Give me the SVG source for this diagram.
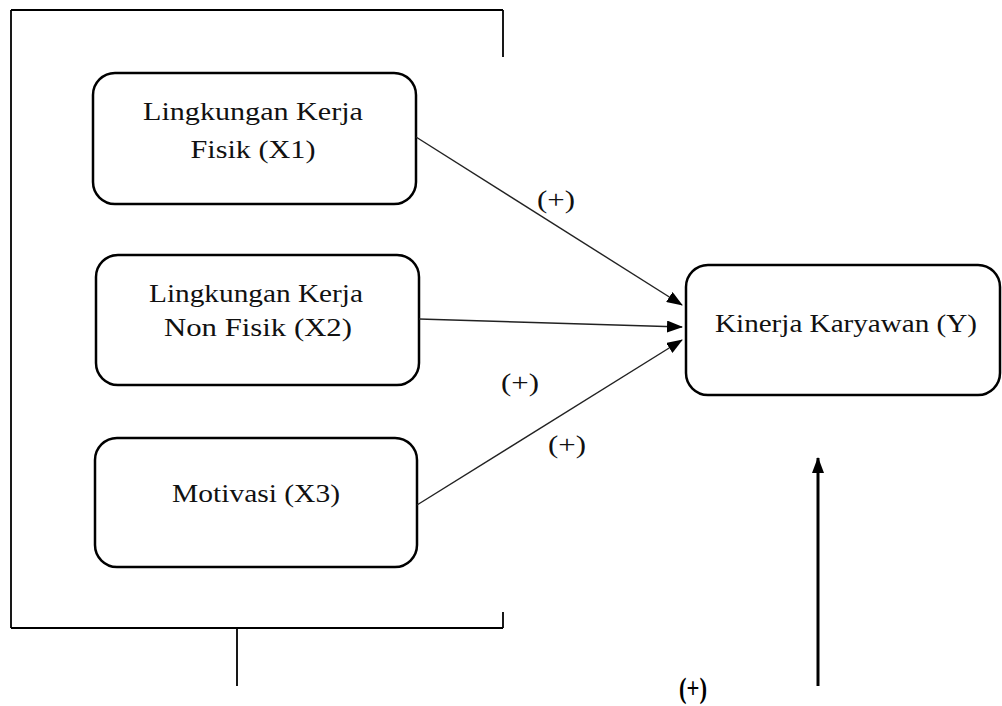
<svg xmlns="http://www.w3.org/2000/svg" width="1002" height="706" viewBox="0 0 1002 706">
<style>
.box{fill:#fff;stroke:#000;stroke-width:2.5}
.t{font-family:"Liberation Serif","Times New Roman","DejaVu Serif",serif;font-size:25px;fill:#111;text-anchor:middle}
.b{font-family:"Liberation Serif","Times New Roman","DejaVu Serif",serif;font-size:30px;font-weight:bold;fill:#000;text-anchor:middle}
.ln{stroke:#222;stroke-width:1.4;fill:none}
.br{stroke:#000;stroke-width:1.8;fill:none}
</style>
<defs>
<marker id="ah" markerWidth="16" markerHeight="12" refX="15" refY="6" orient="auto" markerUnits="userSpaceOnUse" viewBox="0 0 16 12">
<path d="M0,0 L16,6 L0,12 Z" fill="#000"/>
</marker>
<marker id="ah2" markerWidth="16" markerHeight="12" refX="15" refY="6" orient="auto" markerUnits="userSpaceOnUse" viewBox="0 0 16 12">
<path d="M0,0 L16,6 L0,12 Z" fill="#000"/>
</marker>
</defs>
<rect width="1002" height="706" fill="#fff"/>
<g id="bracket">
<path class="br" d="M11,10 H503 M11,10 V628 M503,10 V57 M11,628 H503 M503,612 V628 M237,628 V686"/>
</g>
<g id="x1">
<rect class="box" x="93" y="73" width="323" height="131" rx="22"/>
<text class="t" x="253" y="120" textLength="220" lengthAdjust="spacingAndGlyphs">Lingkungan  Kerja</text>
<text class="t" x="253" y="158" textLength="125" lengthAdjust="spacingAndGlyphs">Fisik  (X1)</text>
</g>
<g id="x2">
<rect class="box" x="96" y="255" width="323" height="130" rx="22"/>
<text class="t" x="256" y="302" textLength="214" lengthAdjust="spacingAndGlyphs">Lingkungan  Kerja</text>
<text class="t" x="258" y="336" textLength="188" lengthAdjust="spacingAndGlyphs">Non Fisik  (X2)</text>
</g>
<g id="x3">
<rect class="box" x="95" y="438" width="322" height="129" rx="22"/>
<text class="t" x="256" y="502" textLength="168" lengthAdjust="spacingAndGlyphs">Motivasi  (X3)</text>
</g>
<g id="y">
<rect class="box" x="686" y="265" width="314" height="130" rx="22"/>
<text class="t" x="846" y="332" textLength="262" lengthAdjust="spacingAndGlyphs">Kinerja  Karyawan  (Y)</text>
</g>
<g id="connectors">
<line class="ln" x1="416" y1="137" x2="682" y2="305" marker-end="url(#ah)"/>
<line class="ln" x1="419" y1="319" x2="682" y2="327" marker-end="url(#ah)"/>
<line class="ln" x1="417" y1="505" x2="682" y2="340" marker-end="url(#ah)"/>
<line x1="818" y1="686" x2="818" y2="458" stroke="#000" stroke-width="3" marker-end="url(#ah2)"/>
</g>
<g id="labels">
<text class="t" x="556" y="208" textLength="38" lengthAdjust="spacingAndGlyphs">(+)</text>
<text class="t" x="520" y="391" textLength="38" lengthAdjust="spacingAndGlyphs">(+)</text>
<text class="t" x="567" y="453" textLength="38" lengthAdjust="spacingAndGlyphs">(+)</text>
<text class="b" x="693" y="698" textLength="28" lengthAdjust="spacingAndGlyphs">(+)</text>
</g>
</svg>
